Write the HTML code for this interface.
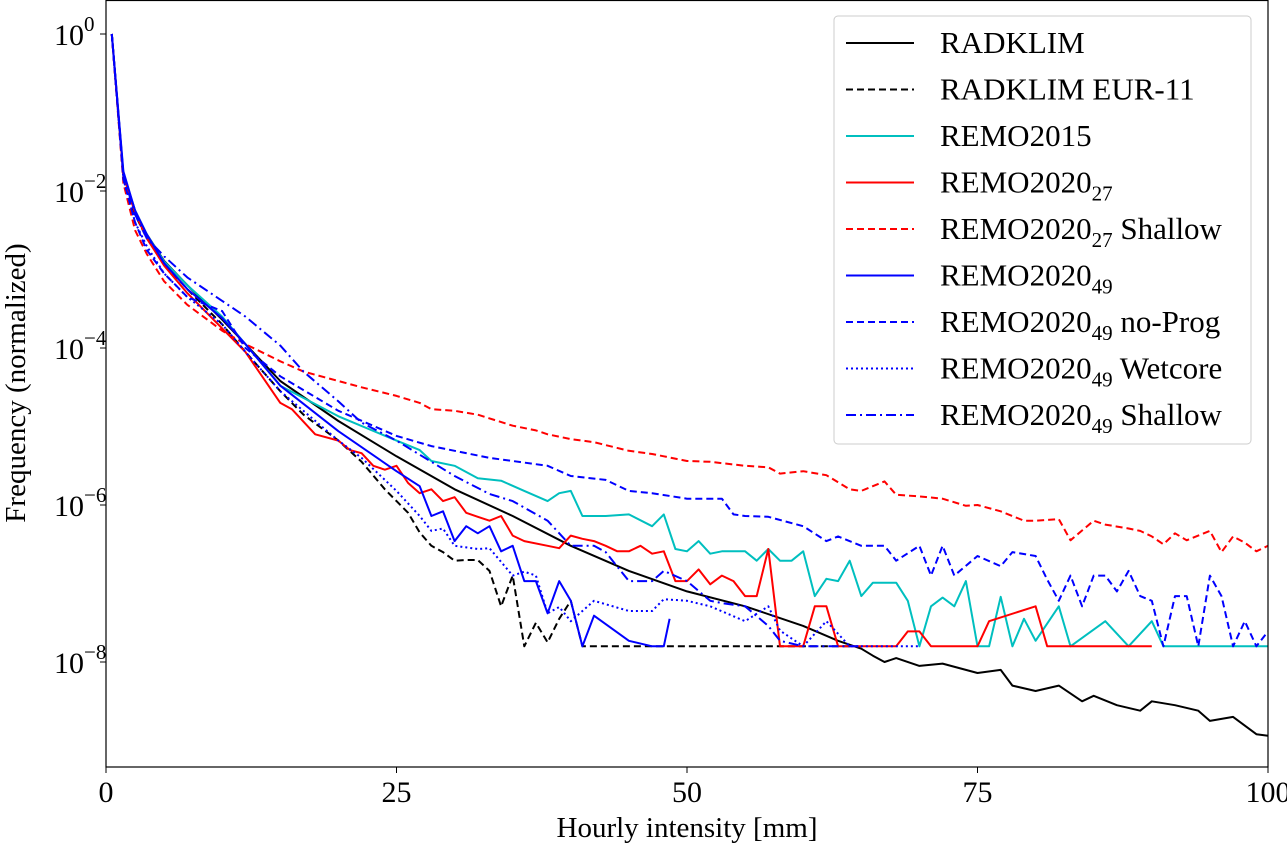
<!DOCTYPE html>
<html><head><meta charset="utf-8">
<style>
html,body{margin:0;padding:0;background:#fff;}
svg{display:block;font-family:"Liberation Serif","DejaVu Serif",serif;}
</style></head>
<body>
<svg id="chart" width="1287" height="845" viewBox="0 0 1287 845" xmlns="http://www.w3.org/2000/svg">
<rect x="0" y="0" width="1287" height="845" fill="#fff"/>
<g id="plot"></g>
<g id="axes"></g>
<g id="legend"></g>
</svg>
<script>
// x values (hourly intensity, mm) and log10 of normalized frequency
const xRadklim = [0.5,1.5,2.5,3.5,5,7,10,12,15,20,25,30,35,40,45,50,55,60,63,65,66,67,68,70,72,75,77,78,80,82,84,85,87,89,90,92,94,95,97,99,100];
const yRadklim = [0,-1.8,-2.25,-2.55,-2.89,-3.2,-3.64,-3.95,-4.42,-4.93,-5.38,-5.8,-6.14,-6.52,-6.84,-7.1,-7.29,-7.54,-7.73,-7.83,-7.92,-8.0,-7.95,-8.05,-8.02,-8.14,-8.1,-8.3,-8.37,-8.3,-8.5,-8.43,-8.55,-8.62,-8.5,-8.55,-8.62,-8.75,-8.7,-8.92,-8.94];

const xEur11 = [0.5,1.5,2.5,3.5,5,7,10,12,15,17,20,22,24,25,26,27,28,29,30,31,32,33,34,35,36,37,38,39,40,41,45,50,55,60,64];
const yEur11 = [0,-1.85,-2.3,-2.6,-2.93,-3.25,-3.7,-4.05,-4.55,-4.85,-5.18,-5.45,-5.8,-5.95,-6.1,-6.35,-6.52,-6.6,-6.71,-6.7,-6.7,-6.84,-7.29,-6.9,-7.8,-7.5,-7.75,-7.45,-7.22,-7.8,-7.8,-7.8,-7.8,-7.8,-7.8];

const xRemo2015 = [0.5,1.5,2.5,3.5,5,7,10,12,15,20,25,27,28,30,32,34,36,38,39,40,41,43,45,47,48,49,50,51,52,53,55,56,57,58,59,60,61,62,63,64,65,66,67,68,69,70,71,72,73,74,75,76,77,78,79,80,82,83,86,88,90,91,100];
const yRemo2015 = [0,-1.78,-2.25,-2.55,-2.9,-3.2,-3.6,-3.95,-4.48,-4.87,-5.18,-5.3,-5.44,-5.5,-5.66,-5.69,-5.82,-5.95,-5.85,-5.82,-6.14,-6.14,-6.12,-6.27,-6.12,-6.56,-6.59,-6.46,-6.62,-6.59,-6.59,-6.71,-6.56,-6.71,-6.71,-6.59,-7.16,-6.94,-6.97,-6.71,-7.16,-6.99,-6.99,-6.99,-7.22,-7.8,-7.29,-7.18,-7.29,-6.97,-7.8,-7.8,-7.17,-7.8,-7.45,-7.73,-7.29,-7.8,-7.48,-7.8,-7.48,-7.8,-7.8];

const xRemo27 = [0.5,1.5,2.5,3.5,5,7,10,12,15,16,18,20,21,22,23,24,25,26,27,28,29,30,31,32,33,34,35,36,38,39,40,41,42,43,44,45,46,47,48,49,50,51,52,53,54,55,56,57,58,59,60,61,62,63,68,69,70,71,75,76,80,81,90];
const yRemo27 = [0,-1.8,-2.28,-2.6,-2.95,-3.3,-3.75,-4.05,-4.7,-4.78,-5.1,-5.18,-5.3,-5.34,-5.5,-5.55,-5.5,-5.72,-5.85,-5.8,-5.95,-5.9,-6.1,-6.15,-6.2,-6.14,-6.39,-6.46,-6.52,-6.55,-6.39,-6.43,-6.46,-6.52,-6.59,-6.59,-6.52,-6.62,-6.59,-6.97,-6.97,-6.82,-7.01,-6.9,-6.97,-7.16,-7.16,-6.56,-7.8,-7.8,-7.8,-7.29,-7.29,-7.8,-7.8,-7.61,-7.61,-7.8,-7.8,-7.48,-7.29,-7.8,-7.8];

const xRemo27Sh = [0.5,1.5,2.5,3.5,5,7,10,12,15,17,20,22,25,27,28,30,32,35,37,38,40,42,45,47,48,50,52,55,57,58,60,62,64,65,67,68,70,72,74,75,77,79,80,82,83,85,86,88,89,90,91,92,93,95,96,97,98,99,100];
const yRemo27Sh = [0,-1.9,-2.5,-2.8,-3.15,-3.45,-3.78,-3.95,-4.17,-4.3,-4.42,-4.5,-4.61,-4.7,-4.78,-4.8,-4.85,-4.99,-5.05,-5.1,-5.16,-5.2,-5.31,-5.35,-5.38,-5.44,-5.45,-5.5,-5.52,-5.6,-5.57,-5.62,-5.8,-5.82,-5.7,-5.87,-5.89,-5.92,-6.01,-6.0,-6.08,-6.2,-6.2,-6.18,-6.45,-6.2,-6.25,-6.3,-6.33,-6.4,-6.5,-6.36,-6.45,-6.33,-6.6,-6.4,-6.48,-6.59,-6.52];

const xRemo49 = [0.5,1.5,2.5,3.5,5,7,10,12,15,20,25,27,28,29,30,31,32,33,34,35,36,37,38,39,40,41,42,45,47,48,48.5];
const yRemo49 = [0,-1.75,-2.25,-2.55,-2.92,-3.25,-3.62,-3.95,-4.48,-5.06,-5.57,-5.76,-6.14,-6.08,-6.46,-6.27,-6.36,-6.27,-6.59,-6.52,-6.97,-6.97,-7.38,-6.97,-7.22,-7.8,-7.41,-7.73,-7.8,-7.8,-7.45];

const xRemo49NoProg = [0.5,1.5,2.5,3.5,5,7,10,12,15,20,25,28,30,33,35,38,40,43,45,47,50,53,54,55,57,60,62,63,65,67,68,70,71,72,73,75,77,78,80,81,82,83,84,85,86,87,88,89,90,91,92,93,94,95,96,97,98,99,100];
const yRemo49NoProg = [0,-1.85,-2.4,-2.75,-3.05,-3.35,-3.53,-4.0,-4.36,-4.8,-5.12,-5.25,-5.31,-5.4,-5.44,-5.5,-5.63,-5.68,-5.82,-5.85,-5.92,-5.92,-6.12,-6.14,-6.15,-6.27,-6.46,-6.4,-6.52,-6.52,-6.71,-6.52,-6.9,-6.52,-6.9,-6.65,-6.78,-6.6,-6.65,-6.95,-7.22,-6.9,-7.29,-6.9,-6.9,-7.1,-6.84,-7.16,-7.22,-7.8,-7.16,-7.16,-7.8,-6.9,-7.16,-7.8,-7.48,-7.8,-7.61];

const xRemo49Wet = [0.5,1.5,2.5,3.5,5,7,10,12,15,20,22,25,27,28,29,30,32,33,35,36,37,38,39,40,42,45,47,48,50,52,55,57,58,60,62,64,70];
const yRemo49Wet = [0,-1.85,-2.4,-2.7,-3.05,-3.35,-3.7,-4.05,-4.55,-5.18,-5.4,-5.82,-6.14,-6.33,-6.3,-6.52,-6.56,-6.55,-6.9,-6.85,-6.9,-7.38,-7.3,-7.48,-7.22,-7.35,-7.35,-7.2,-7.22,-7.29,-7.48,-7.29,-7.6,-7.8,-7.48,-7.8,-7.8];

const xRemo49Sh = [0.5,1.5,2.5,3.5,5,7,10,12,15,17,20,22,25,28,30,33,35,38,40,42,43,45,47,48,50,52,53,55,57,58,60,65];
const yRemo49Sh = [0,-1.8,-2.3,-2.6,-2.83,-3.1,-3.4,-3.6,-3.97,-4.3,-4.68,-4.95,-5.18,-5.45,-5.63,-5.86,-5.95,-6.2,-6.52,-6.52,-6.6,-6.97,-6.97,-6.84,-6.97,-7.22,-7.25,-7.29,-7.54,-7.73,-7.8,-7.8];

const xTicks = [0,25,50,75,100];
const yTickExp = [0,-2,-4,-6,-8];

const X0=106, X1=1268, YTOP=0, YBOT=767;
function sx(v){ return X0 + (v/100)*(X1-X0); }
function sy(l){ return 34 - l*78.5; }
const NS="http://www.w3.org/2000/svg";
function mk(tag, attrs, parent){ const e=document.createElementNS(NS,tag); for(const k in attrs) e.setAttribute(k,attrs[k]); parent.appendChild(e); return e; }

const plot=document.getElementById('plot');
const axes=document.getElementById('axes');
const legend=document.getElementById('legend');

const series=[
 {xs:xRadklim, ys:yRadklim, c:'#000', d:'', name:'radklim-line'},
 {xs:xEur11, ys:yEur11, c:'#000', d:'7,4', name:'radklim-eur11-line'},
 {xs:xRemo2015, ys:yRemo2015, c:'#00bfbf', d:'', name:'remo2015-line'},
 {xs:xRemo27, ys:yRemo27, c:'#ff0000', d:'', name:'remo2020-27-line'},
 {xs:xRemo27Sh, ys:yRemo27Sh, c:'#ff0000', d:'7,4', name:'remo2020-27-shallow-line'},
 {xs:xRemo49, ys:yRemo49, c:'#0000ff', d:'', name:'remo2020-49-line'},
 {xs:xRemo49NoProg, ys:yRemo49NoProg, c:'#0000ff', d:'7,4', name:'remo2020-49-noprog-line'},
 {xs:xRemo49Wet, ys:yRemo49Wet, c:'#0000ff', d:'2,3', name:'remo2020-49-wetcore-line'},
 {xs:xRemo49Sh, ys:yRemo49Sh, c:'#0000ff', d:'10,4,2,4', name:'remo2020-49-shallow-line'}
];
const defs=mk('defs',{},plot);
const cp=mk('clipPath',{id:'clip'},defs);
mk('rect',{x:X0,y:YTOP,width:X1-X0,height:YBOT-YTOP},cp);
const lines=mk('g',{'clip-path':'url(#clip)'},plot);
series.forEach(s=>{
  const pts=s.xs.map((x,i)=>sx(x).toFixed(1)+','+sy(s.ys[i]).toFixed(1)).join(' ');
  const p=mk('polyline',{points:pts,fill:'none',stroke:s.c,'stroke-width':2,'stroke-linejoin':'round'},lines);
  if(s.d) p.setAttribute('stroke-dasharray',s.d);
  
  
});

const fr=mk('rect',{x:X0,y:YTOP+0.5,width:X1-X0,height:YBOT-YTOP-0.5,fill:'none',stroke:'#000','stroke-width':1.2},axes);



xTicks.forEach(t=>{
  const x=sx(t);
  mk('line',{x1:x,y1:YBOT,x2:x,y2:YBOT+6,stroke:'#000','stroke-width':1},axes);
  const tx=mk('text',{x:x,y:YBOT+35,'text-anchor':'middle','font-size':30},axes);
  tx.textContent=t;
  
  
});
yTickExp.forEach(e=>{
  const y=sy(e);
  mk('line',{x1:X0-6,y1:y,x2:X0,y2:y,stroke:'#000','stroke-width':1},axes);
  const tx=mk('text',{x:54,y:y+11,'font-size':30},axes);
  tx.textContent='10';
  const sup=mk('tspan',{dy:-14,'font-size':21},tx);
  sup.textContent=(e===0?'0':'\u2212'+(-e));
  
  
});
const xt=mk('text',{x:(X0+X1)/2,y:837,'text-anchor':'middle','font-size':29},axes);
xt.textContent='Hourly intensity [mm]';


const yt=mk('text',{x:0,y:0,'text-anchor':'middle','font-size':29,transform:'translate(25,383) rotate(-90)'},axes);
yt.textContent='Frequency (normalized)';



const lb=mk('rect',{x:834,y:16,width:417,height:428,rx:4,fill:'#fff','fill-opacity':0.9,stroke:'#ccc','stroke-width':1},legend);


const labels=[['RADKLIM','',''],['RADKLIM EUR-11','',''],['REMO2015','',''],['REMO2020','27',''],['REMO2020','27',' Shallow'],['REMO2020','49',''],['REMO2020','49',' no-Prog'],['REMO2020','49',' Wetcore'],['REMO2020','49',' Shallow']];
labels.forEach((l,i)=>{
  const y=43+i*46.5;
  const g=mk('g',{},legend);
  
  
  const s=series[i];
  const ln=mk('line',{x1:846,y1:y,x2:914,y2:y,stroke:s.c,'stroke-width':2},g);
  if(s.d) ln.setAttribute('stroke-dasharray',s.d);
  const t=mk('text',{x:940,y:y+10,'font-size':31},g);
  t.appendChild(document.createTextNode(l[0]));
  if(l[1]){ const sb=mk('tspan',{dy:8,'font-size':21},t); sb.textContent=l[1]; }
  if(l[2]){ const r=mk('tspan',{dy:l[1]?-8:0},t); r.textContent=l[2]; }
});
</script>
</body></html>
